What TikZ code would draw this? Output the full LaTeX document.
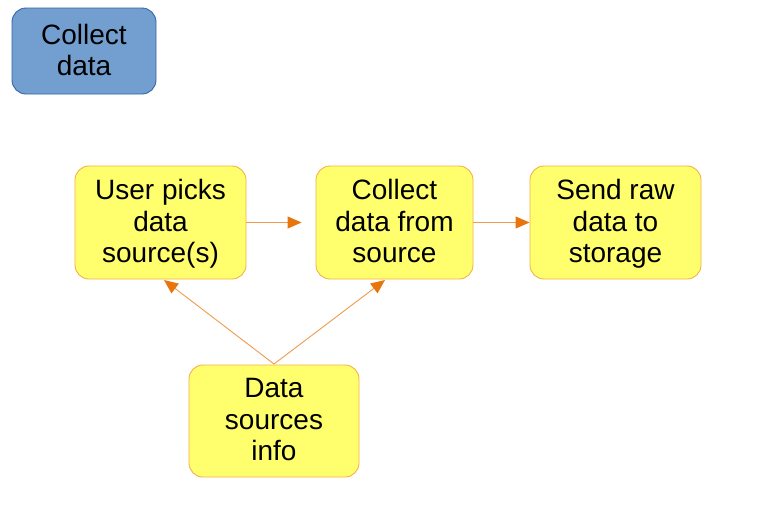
\documentclass[tikz,border=0pt]{standalone}
\usepackage{fontspec}
\setmainfont{Liberation Sans}
\usetikzlibrary{arrows.meta}
\definecolor{yfill}{HTML}{FFFF6D}
\definecolor{ydraw}{HTML}{F5B047}
\definecolor{bfill}{HTML}{729FCF}
\definecolor{bdraw}{HTML}{3465A4}
\definecolor{arr}{HTML}{F09A4A}
\definecolor{arrhead}{HTML}{E8740C}
\begin{document}
\begin{tikzpicture}[x=1pt,y=-1pt,
  boxtext/.style={inner sep=0pt,font=\fontsize{28}{31.5}\selectfont,align=center,text=black,
    execute at begin node=\strut,execute at end node=\strut,yshift=-3.5pt},
  ybox/.style={draw=ydraw,fill=yfill,line width=0.9pt,rounded corners=14pt},
  bbox/.style={draw=bdraw,fill=bfill,line width=0.9pt,rounded corners=14pt},
  conn/.style={draw=arr,line width=0.9pt,-{Triangle[length=14pt,width=12pt,fill=arrhead,color=arrhead]}}]
\useasboundingbox (0,0) rectangle (768,507);
\node[bbox,minimum width=144pt,minimum height=86pt,
  label={[boxtext]center:Collect\\data}] (cd) at (84,51) {};
\node[ybox,minimum width=171pt,minimum height=113pt,
  label={[boxtext]center:User picks\\data\\source(s)}] (up) at (160.5,222.5) {};
\node[ybox,minimum width=157pt,minimum height=113pt,
  label={[boxtext]center:Collect\\data from\\source}] (cs) at (394.5,222.5) {};
\node[ybox,minimum width=171pt,minimum height=113pt,
  label={[boxtext]center:Send raw\\data to\\storage}] (sr) at (615.5,222.5) {};
\node[ybox,minimum width=170pt,minimum height=112pt,
  label={[boxtext]center:Data\\sources\\info}] (ds) at (274,421) {};
\draw[conn,shorten >=14pt] (up.east) -- (cs.west);
\draw[conn] (cs.east) -- (sr.west);
\coordinate (dt) at (274,364);
\draw[conn] (dt) -- (164,280);
\draw[conn] (dt) -- (385,280);
\end{tikzpicture}
\end{document}
